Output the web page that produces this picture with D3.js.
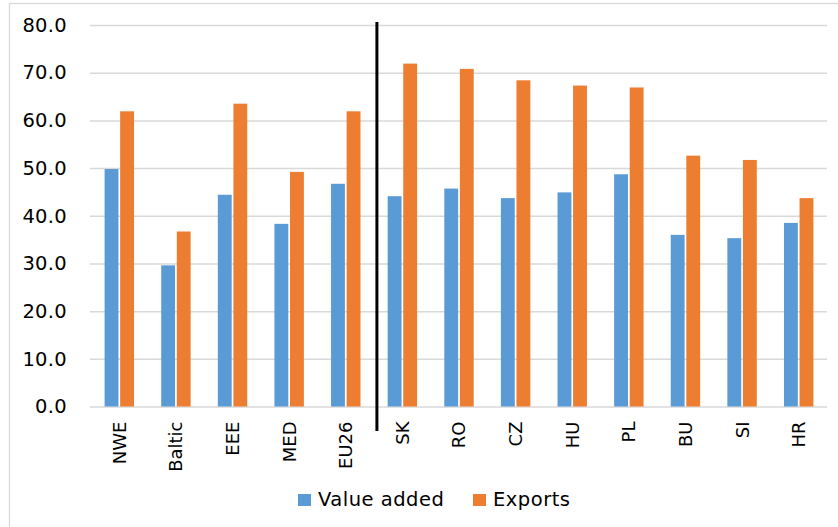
<!DOCTYPE html>
<html><head><meta charset="utf-8">
<script src="https://cdn.jsdelivr.net/npm/d3@7"></script>
<style>body{margin:0;background:#fff}svg{display:block}text{font-family:"DejaVu Sans",sans-serif;fill:#000}</style>
</head><body><svg id="c" width="838" height="527"></svg>
<script>
const categories = ["NWE","Baltic","EEE","MED","EU26","SK","RO","CZ","HU","PL","BU","SI","HR"];
const valueAdded = [49.8,29.6,44.4,38.3,46.7,44.1,45.7,43.7,44.9,48.7,36.0,35.3,38.5];
const exportsV   = [61.9,36.7,63.5,49.2,61.9,71.9,70.8,68.4,67.3,66.9,52.6,51.7,43.7];
const seriesNames = ["Value added","Exports"];
const colors = ["#5b9bd5","#ed7d31"];
const yTicks = [0,10,20,30,40,50,60,70,80];
const dividerBefore = "SK";

const svg = d3.select("#c");
// frame
svg.append("rect").attr("x",9.5).attr("y",3.5).attr("width",840).attr("height",540)
  .attr("fill","none").attr("stroke","#d9d9d9").attr("stroke-width",1.3);

const pLeft=91, pRight=827, pTop=25, pBottom=406.5;
const x0 = d3.scaleBand().domain(categories).range([pLeft,pRight]).paddingInner(0.48).paddingOuter(0.24);
const x1 = d3.scaleBand().domain([0,1]).range([0,x0.bandwidth()]).paddingInner(0.11);
const y = d3.scaleLinear().domain([0,80]).range([pBottom,pTop]);

// gridlines
const yAxis = d3.axisLeft(y).tickValues(yTicks).tickFormat(d3.format(".1f")).tickSize(-(pRight-pLeft+1)).tickPadding(23);
const ga = svg.append("g").attr("transform",`translate(${pLeft-1},0)`).call(yAxis);
ga.select(".domain").remove();
ga.selectAll(".tick line").attr("stroke","#d9d9d9").attr("stroke-width",1.5);
ga.selectAll(".tick text").style("font-size","19.5px").style("letter-spacing","0.3px").attr("fill","#000");

// bars
const data = categories.map((c,i)=>({c, v:[valueAdded[i],exportsV[i]]}));
const g = svg.append("g");
data.forEach(d=>{
  d.v.forEach((v,j)=>{
    g.append("rect").attr("x",x0(d.c)+x1(j)).attr("y",y(v)).attr("width",x1.bandwidth())
      .attr("height",y(0)-y(v)).attr("fill",colors[j]);
  });
});

// x labels
const xAxis = d3.axisBottom(x0).tickSize(0).tickPadding(0);
const gx = svg.append("g").attr("transform",`translate(0,${pBottom})`).call(xAxis);
gx.select(".domain").remove();
gx.selectAll(".tick text").attr("transform","translate(0,15) rotate(-90)")
  .attr("text-anchor","end").attr("dy","0.36em").attr("x",0).attr("y",0)
  .style("font-size","18px").attr("fill","#000");

// divider line
const dx = x0(dividerBefore) - x0.step()*0.19;
svg.append("line").attr("x1",dx).attr("x2",dx).attr("y1",22).attr("y2",431)
  .attr("stroke","#000").attr("stroke-width",3);

// legend
const legendX = [298,473];
seriesNames.forEach((n,j)=>{
  svg.append("rect").attr("x",legendX[j]).attr("y",494).attr("width",13).attr("height",12).attr("fill",colors[j]);
  svg.append("text").attr("x",legendX[j]+20).attr("y",506).text(n)
    .style("font-size","19.5px").style("letter-spacing","0.5px");
});
</script></body></html>
